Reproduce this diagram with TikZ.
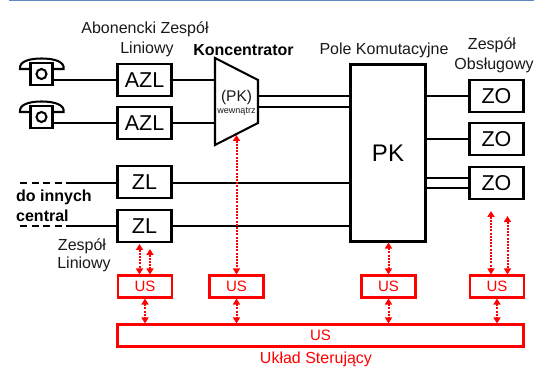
\documentclass[tikz,border=0pt]{standalone}
\usepackage{fontspec}
\setmainfont{Liberation Sans}
\usetikzlibrary{arrows.meta}
\definecolor{topblue}{HTML}{5B87C5}
\tikzset{
  x=1pt,y=-1pt,
  blk/.style={draw=black,line width=2.05pt,fill=white,inner sep=0pt,font=\fontsize{21.5}{23}\selectfont,minimum width=54pt,minimum height=32pt},
  ctl/.style={draw=red,line width=2.05pt,fill=white,inner sep=0pt,text=red,font=\fontsize{15}{17}\selectfont,minimum width=54pt,minimum height=22pt},
  wire/.style={draw=black,line width=1.4pt},
  dashwire/.style={draw=black,line width=1.4pt,dash pattern=on 7pt off 4.5pt},
  ctrlarrow/.style={draw=red,line width=2pt,dash pattern=on 2pt off 1.2pt,{Triangle[length=6pt,width=7pt]}-{Triangle[length=6pt,width=7pt]}},
  lab/.style={inner sep=0pt,text=black!90,font=\fontsize{16}{18}\selectfont},
  boldlab/.style={inner sep=0pt,text=black,font=\fontsize{16}{18}\selectfont\bfseries},
  phone/.style={draw=black,line width=2.05pt,fill=white},
}
\newcommand{\telephone}[2]{%
  \begin{scope}[shift={(0,#1)}]
    \draw[phone] (20,69) .. controls (19,62) and (28,58.5) .. (41.5,58.5) .. controls (55,58.5) and (65,62) .. (63.5,69) -- (53,69) -- (30,69) -- cycle;
    \node[phone,minimum width=22pt,minimum height=22pt,inner sep=0pt] (#2) at (41.5,74) {};
    \draw[phone] (41.5,74) circle (5);
  \end{scope}}
\begin{document}
\begin{tikzpicture}
\useasboundingbox (0,0) rectangle (547,371);
\coordinate (bl) at (9,0.5); \coordinate (br) at (534,0.5);
\draw[topblue,line width=1.4pt] (bl) -- (br);

\telephone{0}{tel1}
\telephone{43}{tel2}

\node[blk] (azl1) at (144.5,80) {AZL};
\node[blk] (azl2) at (144.5,123) {AZL};
\node[blk] (zl1) at (144.5,182) {ZL};
\node[blk] (zl2) at (144.5,226) {ZL};
\node[blk,minimum width=75pt,minimum height=177pt,font=\fontsize{24}{26}\selectfont] (pk) at (388,153) {PK};
\node[blk] (zo1) at (496.5,96) {ZO};
\node[blk] (zo2) at (496.5,139) {ZO};
\node[blk] (zo3) at (496.5,183) {ZO};

% concentrator
\coordinate (ta) at (215,58); \coordinate (tb) at (258,80);
\coordinate (tc) at (258,123); \coordinate (td) at (215,145);
\draw[draw=black,line width=2.05pt,fill=white,line join=miter] (ta) -- (tb) -- (tc) -- (td) -- cycle;
\node[inner sep=0pt,font=\fontsize{15.5}{17}\selectfont,text=black!90] (tpk) at (236.5,97) {(PK)};
\node[inner sep=0pt,font=\fontsize{9}{10}\selectfont,text=black!90] (twew) at (236.5,112) {wewnątrz};

% control units
\node[ctl] (us1) at (145,286.5) {US};
\node[ctl] (us2) at (236.5,286.5) {US};
\node[ctl] (us3) at (388.5,286.5) {US};
\node[ctl] (us4) at (497,286.5) {US};
\node[ctl,minimum width=406pt] (usb) at (320.5,335.5) {US};

% wires
\draw[wire] (tel1.east |- azl1) -- (azl1.west);
\draw[wire] (tel2.east |- azl2) -- (azl2.west);
\draw[wire] (azl1.east) -- (azl1.east -| ta);
\draw[wire] (azl2.east) -- (azl2.east -| ta);
\draw[wire] (tb |- 0,96) -- (pk.west |- 0,96);
\draw[wire] (tb |- 0,107) -- (pk.west |- 0,107);
\draw[wire] (zl1.east |- 0,183) -- (pk.west |- 0,183);
\draw[wire] (zl2.east) -- (pk.west |- zl2);
\coordinate (d1) at (20,183); \coordinate (d2) at (20,226);
\coordinate (s1) at (68,183); \coordinate (s2) at (68,226);
\draw[dashwire] (d1) -- (s1);
\draw[dashwire] (d2) -- (s2);
\draw[wire] (s1) -- (zl1.west |- s1);
\draw[wire] (s2) -- (zl2.west |- s2);
\draw[wire] (pk.east |- zo1) -- (zo1.west);
\draw[wire] (pk.east |- zo2) -- (zo2.west);
\draw[wire] (pk.east |- 0,178) -- (zo3.west |- 0,178);
\draw[wire] (pk.east |- 0,188) -- (zo3.west |- 0,188);

% control arrows
\draw[ctrlarrow] (139.5,244) -- (us1.north -| 139.5,0);
\draw[ctrlarrow] (150,249) -- (us1.north -| 150,0);
\draw[ctrlarrow] (us1.south -| 145,0) -- (usb.north -| 145,0);
\draw[ctrlarrow] (236.5,135) -- (us2.north);
\draw[ctrlarrow] (us2.south) -- (usb.north -| us2);
\draw[ctrlarrow] (pk.south -| us3) -- (us3.north);
\draw[ctrlarrow] (us3.south) -- (usb.north -| us3);
\draw[ctrlarrow] (491,211) -- (us4.north -| 491,0);
\draw[ctrlarrow] (507.5,216) -- (us4.north -| 507.5,0);
\draw[ctrlarrow] (us4.south) -- (usb.north -| us4);

% labels
\node[lab] (l1) at (145,29) {Abonencki Zespół};
\node[lab] (l2) at (147,49) {Liniowy};
\node[boldlab] (l3) at (243.5,50.5) {Koncentrator};
\node[lab] (l4) at (384,50.5) {Pole Komutacyjne};
\node[lab] (l5) at (492,45) {Zespół};
\node[lab] (l6) at (494,65) {Obsługowy};
\node[boldlab,anchor=west] (l7) at (16,197) {do innych};
\node[boldlab,anchor=west] (l8) at (16,216) {central};
\node[lab] (l9) at (82,246) {Zespół};
\node[lab] (l10) at (84,264.5) {Liniowy};
\node[lab,text=red] (l11) at (316,359) {Układ Sterujący};
\end{tikzpicture}
\end{document}
